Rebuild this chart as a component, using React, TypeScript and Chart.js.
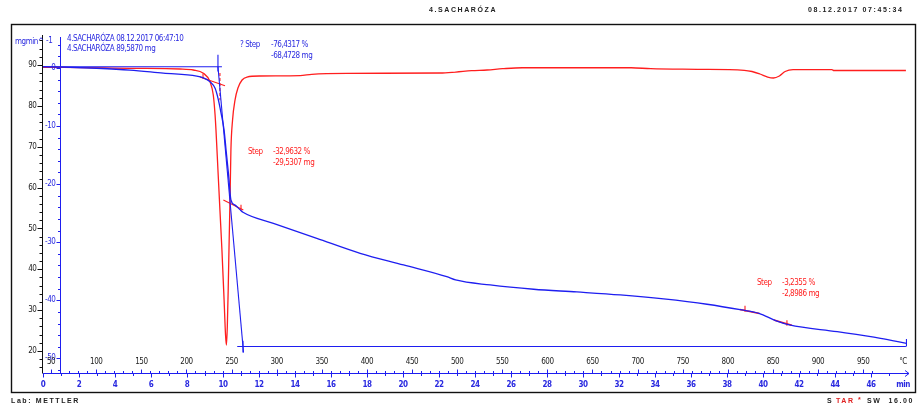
import { useEffect, useRef } from "react";
import { Chart, registerables } from "chart.js";

Chart.register(...registerables);

// ---- Sample / report header ----
const TITLE = "4.SACHARÓZA";
const PRINT_STAMP = "08.12.2017 07:45:34";
const CURVE_INFO = ["4.SACHARÓZA 08.12.2017 06:47:10", "4.SACHARÓZA 89,5870 mg"];
const LAB_TEXT = "Lab: METTLER";
const SAMPLE_MASS = 89.587; // mg
const START_TEMP = 41; // °C at t = 0
const HEATING_RATE = 19.95; // K/min

// ---- TGA: sample mass (mg) vs time (min) ----
const tgaTime = [
  0, 1.13, 2.98, 4.83, 6.68, 8.54, 8.91, 9.28, 9.56, 9.72, 9.89, 10.06, 10.17, 10.31, 10.44,
  10.67, 10.94, 11.11, 12.8, 15.21, 17.62, 20.03, 22.43, 22.92, 24.84, 27.26, 29.66, 32.07,
  34.48, 36.89, 38.82, 39.78, 40.74, 41.47, 44.12, 46.53, 47.97,
];
const tgaMass = [
  89.59, 89.5, 89.2, 88.75, 88.0, 87.3, 86.85, 85.9, 84.3, 81.9, 78.3, 74.1, 69.2, 63.1, 57.0,
  55.7, 54.6, 53.95, 51.26, 47.59, 43.92, 41.06, 38.19, 37.39, 36.16, 35.11, 34.45, 33.72,
  32.74, 31.44, 30.04, 29.23, 27.35, 26.37, 24.73, 23.11, 21.89,
];

// ---- DTG: mass-loss rate (mg/min) vs time (min) ----
const dtgTime = [
  0, 1.13, 4.83, 7.61, 8.35, 8.91, 9.28, 9.46, 9.56, 9.61, 9.72, 9.83, 9.94, 10.06, 10.14,
  10.19, 10.24, 10.29, 10.34, 10.39, 10.44, 10.53, 10.67, 10.83, 11.06, 11.33, 12.06, 14.28,
  14.93, 16.88, 22.07, 22.94, 23.81, 24.67, 25.53, 26.62, 32.68, 33.76, 36.36, 38.96, 39.39,
  39.83, 40.26, 40.58, 40.91, 41.23, 41.67, 43.83, 43.94, 47.94,
];
const dtgRate = [
  0.1, 0.1, -0.07, -0.19, -0.36, -0.93, -2.38, -4.66, -8.1, -10.7, -17.6, -24.5, -31.3, -39.9,
  -45.9, -47.7, -44.5, -38.0, -30.0, -22.7, -14.1, -9.0, -5.5, -3.46, -2.08, -1.57, -1.39,
  -1.34, -1.1, -0.93, -0.88, -0.71, -0.48, -0.36, -0.14, 0.03, 0.03, -0.14, -0.24, -0.41,
  -0.62, -1.05, -1.57, -1.74, -1.39, -0.62, -0.31, -0.31, -0.45, -0.45,
];

// ---- Step evaluations ----
const stepPercent = [-76.4317, -32.9632, -3.2355];
const stepMg = [-68.4728, -29.5307, -2.8986];
const stepName = ["? Step", "Step", "Step"];

// Total step (blue): onset tangent, baseline levels and limit marks
const totalStepTime = [9.72, 11.14];
const totalStepEndTime = [10.79, 47.94];
const totalStepStartLevelTime = [0, 9.94];

// First partial step (red): tangents, limits and midpoint
const step1PreTime = [8.72, 10.11];
const step1PreMass = [87.04, 84.93];
const step1PostTime = [10.02, 11.13];
const step1PostMass = [56.96, 54.51];
const step1LimitTime = [8.89, 11.0];
const step1MidTime = 9.83;
const step1MidMass = [88.04, 81.4];

// Second partial step (red)
const step2PreTime = [38.72, 39.8];
const step2PreMass = [30.15, 29.2];
const step2PostTime = [40.6, 41.6];
const step2PostMass = [27.6, 26.3];
const step2LimitTime = [39.0, 41.33];

// ---- Axis tick labels ----
const massTicks = [20, 30, 40, 50, 60, 70, 80, 90];
const rateTicks = [0, -10, -20, -30, -40, -50];
const tempTicks = [50, 100, 150, 200, 250, 300, 350, 400, 450, 500, 550, 600, 650, 700, 750, 800, 850, 900, 950];
const timeTicks = [0, 2, 4, 6, 8, 10, 12, 14, 16, 18, 20, 22, 24, 26, 28, 30, 32, 34, 36, 38, 40, 42, 44, 46];

const BLUE = "#1e1ef0";
const BLUE_TEXT = "#2a2ae0";
const RED = "#ff1e1e";
const NARROW = '"Liberation Sans Narrow", "Arial Narrow", "DejaVu Sans Condensed", "Liberation Sans", sans-serif';
const WIDE = '"Liberation Sans", Arial, sans-serif';

const fmt = (v: number, unit: string) => v.toFixed(4).replace(".", ",") + " " + unit;
const pts = (xs: number[], ys: number[]) => xs.map((x, i) => ({ x, y: ys[i] }));
const timeForTemp = (T: number) => (T - START_TEMP) / HEATING_RATE;

const seg = (xs: number[], ys: number[], color: string, axis: string, extra: any = {}) => ({
  data: pts(xs, ys),
  borderColor: color,
  borderWidth: 1.1,
  pointRadius: 0,
  yAxisID: axis,
  tension: 0,
  ...extra,
});

// tight annotation text, as in the analysis software's printouts
const setSmallText = (ctx: any, bold = false) => {
  ctx.font = `${bold ? "bold " : ""}8px ${NARROW}`;
  ctx.letterSpacing = "-0.45px";
};

const decor = {
  id: "decor",
  beforeDatasetsDraw(chart: any) {
    const { ctx, chartArea } = chart;
    const sx = chart.scales.x;
    const sm = chart.scales.mass;
    const sr = chart.scales.rate;
    const axM = chartArea.left - 0.5;
    const axR = chartArea.left + 17.5;
    const axB = chartArea.bottom + 0.5;
    ctx.save();

    // outer frame
    ctx.strokeStyle = "#111";
    ctx.lineWidth = 1.4;
    ctx.strokeRect(11.5, 24.5, 904, 368);

    // mass axis (black)
    ctx.lineWidth = 1;
    ctx.strokeStyle = "#111";
    ctx.beginPath();
    ctx.moveTo(axM, chartArea.top);
    ctx.lineTo(axM, axB);
    for (let m = 16; m <= 96; m += 2) {
      const y = Math.round(sm.getPixelForValue(m)) + 0.5;
      const len = m % 10 === 0 ? 5 : 3;
      ctx.moveTo(axM - len, y);
      ctx.lineTo(axM, y);
    }
    ctx.stroke();
    ctx.fillStyle = "#222";
    setSmallText(ctx);
    ctx.textAlign = "right";
    ctx.textBaseline = "middle";
    massTicks.forEach((m) => ctx.fillText(String(m), axM - 6, sm.getPixelForValue(m)));

    // rate axis (blue)
    ctx.strokeStyle = BLUE;
    ctx.beginPath();
    ctx.moveTo(axR, chartArea.top + 2);
    ctx.lineTo(axR, axB);
    for (let r = 4; r >= -52; r -= 2) {
      const y = Math.round(sr.getPixelForValue(r)) + 0.5;
      const len = r % 10 === 0 ? 4 : 2.5;
      ctx.moveTo(axR - len, y);
      ctx.lineTo(axR, y);
    }
    ctx.stroke();
    ctx.fillStyle = BLUE_TEXT;
    rateTicks.forEach((r) => ctx.fillText(String(r), axR - 5, sr.getPixelForValue(r)));
    ctx.textAlign = "left";
    ctx.fillText("mgmin^", 15, 42);
    ctx.fillText("-1", 46, 41);

    // bottom axis: temperature above, time below
    const xEnd = chartArea.right + 2;
    ctx.strokeStyle = BLUE;
    ctx.beginPath();
    ctx.moveTo(chartArea.left, axB);
    ctx.lineTo(xEnd, axB);
    ctx.moveTo(xEnd - 4, axB - 3);
    ctx.lineTo(xEnd, axB);
    ctx.lineTo(xEnd - 4, axB + 3);
    for (let t = 0; t <= 47; t += 1) {
      const x = Math.round(sx.getPixelForValue(t)) + 0.5;
      ctx.moveTo(x, axB);
      ctx.lineTo(x, axB + (t % 2 === 0 ? 4 : 2.5));
    }
    for (let T = 50; T <= 960; T += 10) {
      const x = Math.round(sx.getPixelForValue(timeForTemp(T))) + 0.5;
      ctx.moveTo(x, axB);
      ctx.lineTo(x, axB - (T % 50 === 0 ? 4 : 2.5));
    }
    ctx.stroke();
    ctx.textAlign = "center";
    ctx.fillStyle = "#222";
    tempTicks.forEach((T) => ctx.fillText(String(T), sx.getPixelForValue(timeForTemp(T)), 362));
    ctx.fillText("°C", 903, 362);
    ctx.fillStyle = BLUE_TEXT;
    setSmallText(ctx, true);
    timeTicks.forEach((t) => ctx.fillText(String(t), sx.getPixelForValue(t), 385));
    ctx.fillText("min", 903, 385);
    ctx.restore();
  },
  afterDatasetsDraw(chart: any) {
    const { ctx } = chart;
    ctx.save();
    ctx.textBaseline = "middle";

    // report header / footer
    ctx.fillStyle = "#222";
    ctx.font = `bold 7px ${WIDE}`;
    ctx.letterSpacing = "1.6px";
    ctx.textAlign = "center";
    ctx.fillText(TITLE, 463, 10);
    ctx.textAlign = "left";
    ctx.fillText(PRINT_STAMP, 808, 10);
    ctx.fillText(LAB_TEXT, 11, 401);
    ctx.fillText("S", 827, 401);
    ctx.fillStyle = "#e02020";
    ctx.fillText("TAR", 836, 401);
    ctx.fillText("*", 858, 400);
    ctx.fillStyle = "#222";
    ctx.fillText("SW  16.00", 867, 401);

    // curve information
    setSmallText(ctx);
    ctx.fillStyle = BLUE_TEXT;
    ctx.fillText(CURVE_INFO[0], 67, 39);
    ctx.fillText(CURVE_INFO[1], 67, 49);

    // step results
    ctx.fillText(stepName[0], 240, 45);
    ctx.fillText(fmt(stepPercent[0], "%"), 271, 45);
    ctx.fillText(fmt(stepMg[0], "mg"), 271, 56);
    ctx.fillStyle = RED;
    ctx.fillText(stepName[1], 248, 152);
    ctx.fillText(fmt(stepPercent[1], "%"), 273, 152);
    ctx.fillText(fmt(stepMg[1], "mg"), 273, 163);
    ctx.fillText(stepName[2], 757, 283);
    ctx.fillText(fmt(stepPercent[2], "%"), 782, 283);
    ctx.fillText(fmt(stepMg[2], "mg"), 782, 294);
    ctx.restore();
  },
};

export default function App() {
  const canvasRef = useRef<HTMLCanvasElement | null>(null);

  useEffect(() => {
    const canvas = canvasRef.current;
    if (!canvas) return;

    const finalMass = SAMPLE_MASS + stepMg[0];
    const tick = (t: number, m0: number, m1: number, color: string) =>
      seg([t, t], [m0, m1], color, "mass");

    const chart = new Chart(canvas, {
      type: "line",
      data: {
        datasets: [
          // TGA curve
          seg(tgaTime, tgaMass, BLUE, "mass", { borderWidth: 1.3, cubicInterpolationMode: "monotone" }),
          // total step evaluation
          seg(totalStepStartLevelTime, [SAMPLE_MASS, SAMPLE_MASS], BLUE, "mass"),
          seg(totalStepEndTime, [finalMass, finalMass], BLUE, "mass"),
          seg(totalStepTime, [SAMPLE_MASS, finalMass - 1.5], BLUE, "mass"),
          tick(totalStepTime[0], SAMPLE_MASS + 2.9, SAMPLE_MASS - 1.2, BLUE),
          tick(11.11, finalMass + 1.4, finalMass - 1.5, BLUE),
          tick(tgaTime[tgaTime.length - 1], finalMass + 1.8, finalMass, BLUE),
          // first partial step
          seg(step1PreTime, step1PreMass, RED, "mass"),
          seg(step1PostTime, step1PostMass, RED, "mass"),
          tick(step1LimitTime[0], 87.9, 86.7, RED),
          tick(step1LimitTime[1], 55.8, 54.4, RED),
          seg([step1MidTime, step1MidTime], step1MidMass, RED, "mass", { borderDash: [3, 2] }),
          // second partial step
          seg(step2PreTime, step2PreMass, RED, "mass", { borderWidth: 1.6 }),
          seg(step2PostTime, step2PostMass, RED, "mass", { borderWidth: 1.6 }),
          tick(step2LimitTime[0], 31.1, 29.6, RED),
          tick(step2LimitTime[1], 27.5, 26.2, RED),
          // DTG curve
          seg(dtgTime, dtgRate, RED, "rate", { borderWidth: 1.3, cubicInterpolationMode: "monotone" }),
        ],
      },
      options: {
        animation: false,
        responsive: false,
        events: [],
        layout: { padding: { left: 43, right: 11, top: 35, bottom: 37 } },
        plugins: { legend: { display: false }, tooltip: { enabled: false }, title: { display: false } },
        scales: {
          x: { type: "linear", min: 0, max: 48, display: false },
          mass: { type: "linear", position: "left", min: 14.615, max: 97.343, display: false },
          rate: { type: "linear", position: "left", min: -52.51, max: 5.663, display: false },
        },
      },
      plugins: [decor],
    } as any);

    return () => chart.destroy();
  }, []);

  return (
    <div style={{ position: "fixed", left: 0, top: 0, width: 918, height: 410, background: "#fff" }}>
      <canvas ref={canvasRef} width={918} height={410} style={{ display: "block" }} />
    </div>
  );
}
